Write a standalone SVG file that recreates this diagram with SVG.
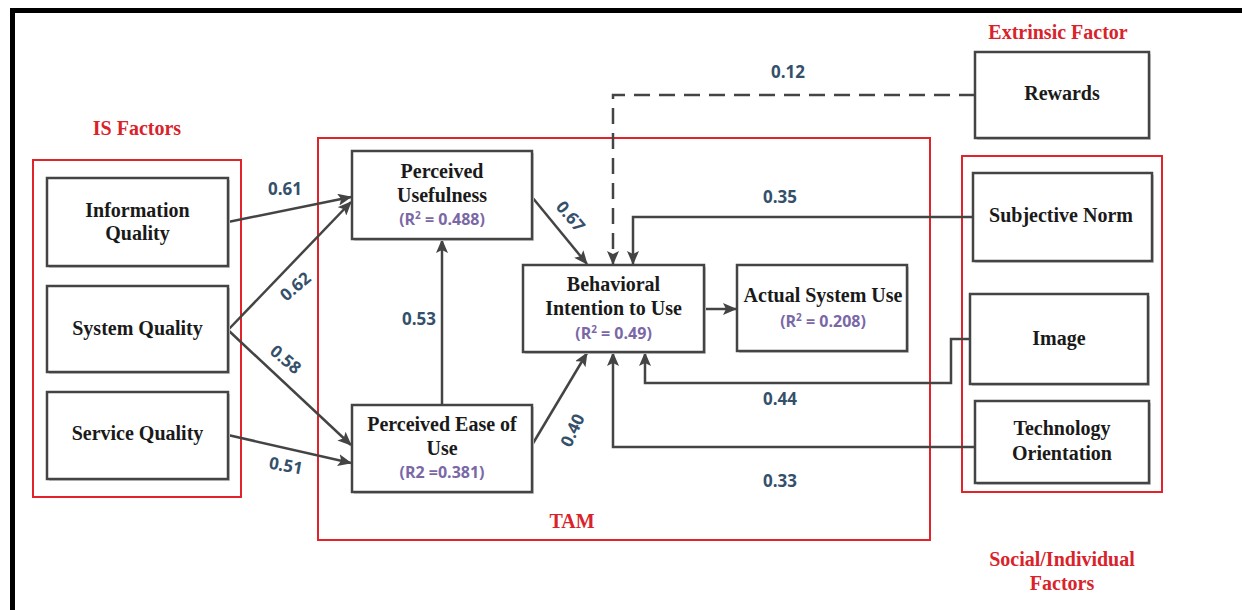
<svg xmlns="http://www.w3.org/2000/svg" width="1242" height="610" viewBox="0 0 1242 610">
<style>
.node{fill:#fff;stroke:#444;stroke-width:2.5}
.shadow{fill:#cfcfcf}
.group{fill:none;stroke:#e0242a;stroke-width:2}
.t{font-family:"Liberation Serif","Times New Roman",serif;font-weight:bold;font-size:20px;fill:#1a1a1a;text-anchor:middle}
.r2{font-family:"Open Sans","Noto Sans",sans-serif;font-weight:bold;font-size:16px;fill:#7a68a6;text-anchor:middle}
.gl{font-family:"Liberation Serif","Times New Roman",serif;font-weight:bold;font-size:20px;fill:#d9232b;text-anchor:middle}
.lbl{font-family:"Open Sans","Noto Sans",sans-serif;font-weight:bold;font-size:17px;fill:#34506b;text-anchor:middle}
.lblc{font-family:"Open Sans","Noto Sans",sans-serif;font-weight:bold;font-size:17px;fill:#34506b;text-anchor:middle;dominant-baseline:central}
.c{fill:none;stroke:#444;stroke-width:2.5}
.dash{stroke-dasharray:16 9}
</style>
<defs>
<marker id="arr" markerUnits="userSpaceOnUse" markerWidth="14" markerHeight="12" refX="13" refY="6" orient="auto">
<path d="M0,0 L14,6 L0,12 L3,6 z" fill="#444"/>
</marker>
</defs>
<rect width="1242" height="610" fill="#fff"/>
<path d="M12.5,610 V10.5 H1242" fill="none" stroke="#000" stroke-width="5"/>

<g id="group-is">
<rect class="group" x="33" y="160" width="208" height="337"/>
<text class="gl" x="137" y="135">IS Factors</text>
</g>
<g id="group-tam">
<rect class="group" x="318" y="138" width="612" height="402"/>
<text class="gl" x="572" y="528">TAM</text>
</g>
<g id="group-social">
<rect class="group" x="962" y="156" width="200" height="336"/>
<text class="gl" x="1062" y="566">Social/Individual</text>
<text class="gl" x="1062" y="590">Factors</text>
</g>
<g id="label-extrinsic">
<text class="gl" x="1058" y="39">Extrinsic Factor</text>
</g>

<g id="connectors">
<line class="c" x1="228" y1="222" x2="351" y2="197" marker-end="url(#arr)"/>
<line class="c" x1="228" y1="330" x2="351" y2="202" marker-end="url(#arr)"/>
<line class="c" x1="228" y1="330" x2="351" y2="445" marker-end="url(#arr)"/>
<line class="c" x1="228" y1="435" x2="351" y2="463" marker-end="url(#arr)"/>
<line class="c" x1="442" y1="405" x2="442" y2="240" marker-end="url(#arr)"/>
<line class="c" x1="532" y1="197" x2="587" y2="264" marker-end="url(#arr)"/>
<line class="c" x1="532" y1="445" x2="587" y2="353" marker-end="url(#arr)"/>
<line class="c" x1="704" y1="309" x2="736" y2="309" marker-end="url(#arr)"/>
<polyline class="c dash" points="975,95 613,95 613,264" marker-end="url(#arr)"/>
<polyline class="c" points="973,217 633,217 633,264" marker-end="url(#arr)"/>
<polyline class="c" points="970,339 951,339 951,383 645,383 645,353" marker-end="url(#arr)"/>
<polyline class="c" points="975,447 613,447 613,353" marker-end="url(#arr)"/>
<text class="lbl" x="285" y="195">0.61</text>
<text class="lblc" transform="translate(295,286) rotate(-40)">0.62</text>
<text class="lblc" transform="translate(286,359) rotate(40)">0.58</text>
<text class="lblc" transform="translate(286,465) rotate(10)">0.51</text>
<text class="lblc" transform="translate(571,216) rotate(50)">0.67</text>
<text class="lbl" x="419" y="325">0.53</text>
<text class="lblc" transform="translate(572,430) rotate(-65)">0.40</text>
<text class="lbl" x="788" y="78">0.12</text>
<text class="lbl" x="780" y="203">0.35</text>
<text class="lbl" x="780" y="405">0.44</text>
<text class="lbl" x="780" y="487">0.33</text>
</g>

<g id="info-quality">
<rect class="shadow" x="49" y="180" width="181" height="88"/>
<rect class="node" x="47" y="178" width="181" height="88"/>
<text class="t" x="137.5" y="217">Information</text>
<text class="t" x="137.5" y="240">Quality</text>
</g>
<g id="system-quality">
<rect class="shadow" x="49" y="288" width="181" height="86"/>
<rect class="node" x="47" y="286" width="181" height="86"/>
<text class="t" x="137.5" y="335">System Quality</text>
</g>
<g id="service-quality">
<rect class="shadow" x="49" y="394" width="181" height="87"/>
<rect class="node" x="47" y="392" width="181" height="87"/>
<text class="t" x="137.5" y="440">Service Quality</text>
</g>
<g id="perceived-usefulness">
<rect class="shadow" x="354" y="153" width="180" height="88"/>
<rect class="node" x="352" y="151" width="180" height="88"/>
<text class="t" x="442" y="178">Perceived</text>
<text class="t" x="442" y="202">Usefulness</text>
<text class="r2" x="442" y="225">(R<tspan dy="-6" font-size="10">2</tspan><tspan dy="6"> = 0.488)</tspan></text>
</g>
<g id="perceived-ease">
<rect class="shadow" x="354" y="407" width="180" height="87"/>
<rect class="node" x="352" y="405" width="180" height="87"/>
<text class="t" x="442" y="431">Perceived Ease of</text>
<text class="t" x="442" y="455">Use</text>
<text class="r2" x="442" y="478">(R2 =0.381)</text>
</g>
<g id="behavioral-intention">
<rect class="shadow" x="525" y="267" width="181" height="87"/>
<rect class="node" x="523" y="265" width="181" height="87"/>
<text class="t" x="613.5" y="291">Behavioral</text>
<text class="t" x="613.5" y="315">Intention to Use</text>
<text class="r2" x="613.5" y="339">(R<tspan dy="-6" font-size="10">2</tspan><tspan dy="6"> = 0.49)</tspan></text>
</g>
<g id="actual-use">
<rect class="shadow" x="739" y="267" width="170" height="86"/>
<rect class="node" x="737" y="265" width="170" height="86"/>
<text class="t" x="823" y="302">Actual System Use</text>
<text class="r2" x="823" y="327">(R<tspan dy="-6" font-size="10">2</tspan><tspan dy="6"> = 0.208)</tspan></text>
</g>
<g id="rewards">
<rect class="shadow" x="977" y="54" width="174" height="86"/>
<rect class="node" x="975" y="52" width="174" height="86"/>
<text class="t" x="1062" y="100">Rewards</text>
</g>
<g id="subjective-norm">
<rect class="shadow" x="975" y="175" width="179" height="88"/>
<rect class="node" x="973" y="173" width="179" height="88"/>
<text class="t" x="1061" y="222">Subjective Norm</text>
</g>
<g id="image">
<rect class="shadow" x="972" y="296" width="178" height="90"/>
<rect class="node" x="970" y="294" width="178" height="90"/>
<text class="t" x="1059" y="345">Image</text>
</g>
<g id="technology-orientation">
<rect class="shadow" x="977" y="403" width="174" height="82"/>
<rect class="node" x="975" y="401" width="174" height="82"/>
<text class="t" x="1062" y="435">Technology</text>
<text class="t" x="1062" y="460">Orientation</text>
</g>
</svg>
